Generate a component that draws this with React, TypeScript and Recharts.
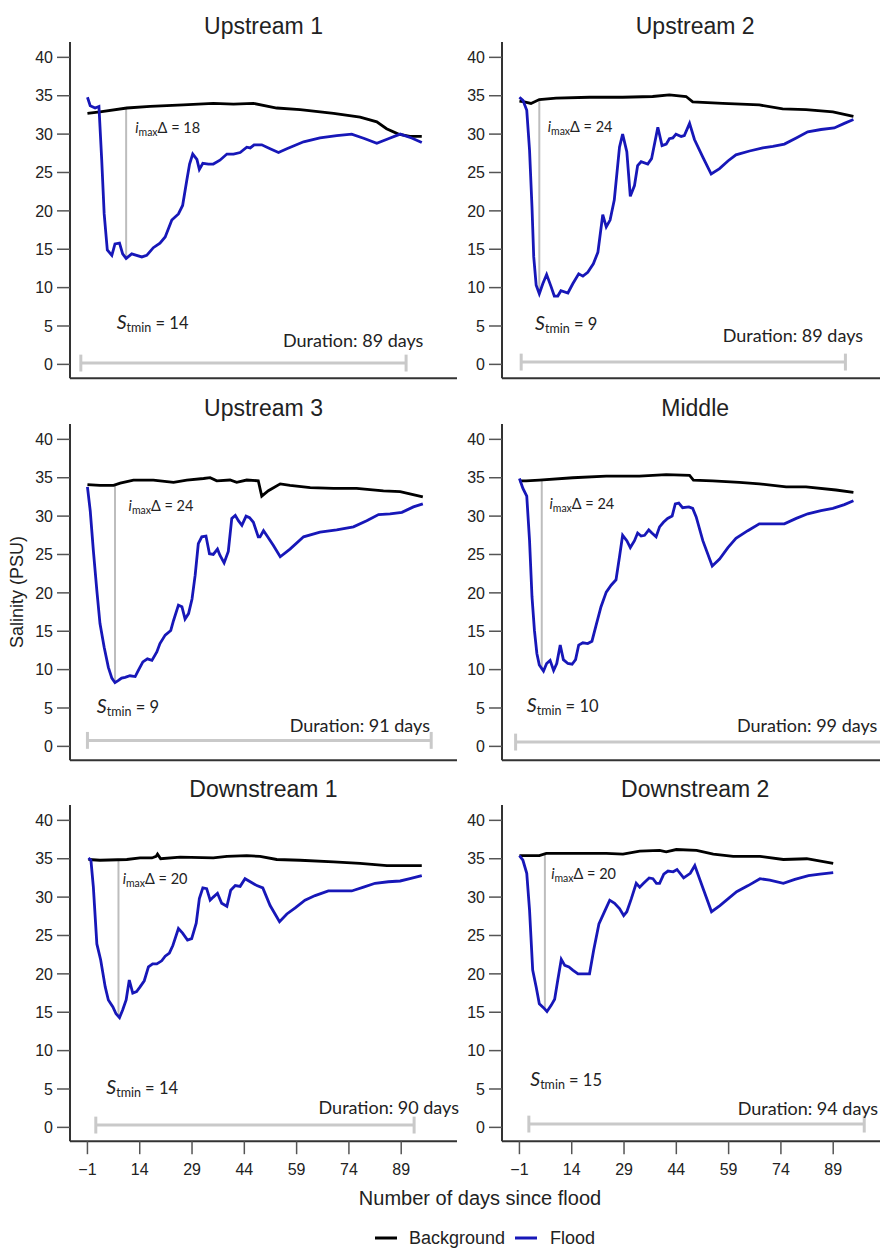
import { LineChart, Line, XAxis, YAxis, ReferenceLine, ReferenceDot } from "recharts";

const DAY_TICKS = [-1, 14, 29, 44, 59, 74, 89];
const SALINITY_TICKS = [0, 5, 10, 15, 20, 25, 30, 35, 40];

const PANEL_TITLES = ["Upstream 1", "Upstream 2", "Upstream 3", "Middle", "Downstream 1", "Downstream 2"];
const IMAX_DELTA = [18, 24, 24, 24, 20, 20];
const S_TMIN = [14, 9, 9, 10, 14, 15];
const DURATION_DAYS = [89, 89, 91, 99, 90, 94];

// day of the largest drop, background and flood salinity on that day
const MIN_DAY = [10.1, 4.7, 6.9, 5.4, 7.9, 6.3];
const MIN_BACKGROUND = [33.4, 34.5, 34.0, 34.7, 34.9, 35.7];
const MIN_FLOOD = [13.8, 9.2, 8.3, 10.0, 14.4, 15.3];

// duration bar, start / end day
const DURATION_START = [-2.9, -0.5, -1, -2.1, 1.4, 1.7];
const DURATION_END = [90.4, 92.5, 97.6, 104, 92.7, 97.9];

// [day, salinity]
const up1Flood = [
  [-1, 34.8], [-0.2, 33.7], [1.2, 33.4], [2.3, 33.6], [3.1, 26.6], [3.8, 19.6], [4.7, 14.9], [6, 14.2],
  [6.9, 15.7], [8.2, 15.8], [9.1, 14.4], [10.1, 13.8], [11.7, 14.4], [13.1, 14.2], [14.6, 14.0], [16, 14.2],
  [17.9, 15.2], [19.8, 15.8], [21.3, 16.6], [23.2, 18.8], [25.1, 19.6], [26.3, 20.7], [27.5, 24.0], [28.3, 26.1],
  [29.2, 27.4], [30.4, 26.7], [31.1, 25.4], [32.1, 26.2], [33.7, 26.1], [35.1, 26.1], [37, 26.6], [39, 27.4],
  [40.9, 27.4], [42.8, 27.6], [44.7, 28.3], [45.7, 28.2], [46.8, 28.6], [49, 28.6], [51.4, 28.1], [53.8, 27.6],
  [56.2, 28.1], [61, 29.0], [65.7, 29.5], [70.5, 29.8], [74.8, 30.0], [78.6, 29.4], [82, 28.8], [85.3, 29.4],
  [88.7, 30.0], [92, 29.5], [94.9, 28.9],
];
const up1Background = [
  [-1, 32.7], [2.6, 32.9], [10.3, 33.4], [17, 33.6], [26.5, 33.8], [35.1, 34.0], [40.9, 33.9], [46.6, 34.0],
  [53.3, 33.4], [60, 33.2], [69.6, 32.7], [77.2, 32.2], [82, 31.6], [84.8, 30.7], [88.2, 30.0], [91.5, 29.7],
  [94.9, 29.7],
];

const up2Flood = [
  [-1, 34.8], [0, 34.4], [1.1, 33.1], [1.9, 27.9], [2.6, 20.5], [3.1, 14.0], [3.8, 10.3], [4.7, 9.2],
  [5.7, 10.5], [6.8, 11.7], [8.1, 10.1], [9, 8.9], [10, 8.9], [10.9, 9.6], [12.9, 9.3], [14.3, 10.5],
  [16, 11.8], [17.2, 11.5], [18.6, 12.0], [20.2, 13.1], [21.5, 14.6], [22.9, 19.5], [23.9, 17.9], [25, 18.8],
  [26.2, 21.4], [27.7, 28.3], [28.6, 30.0], [29.8, 27.7], [30.8, 21.9], [32, 23.3], [32.9, 25.9], [33.9, 26.4],
  [35.8, 26.1], [36.9, 26.8], [38.7, 30.9], [39.9, 28.5], [41.1, 28.7], [42, 29.4], [43, 29.5], [43.9, 30.0],
  [45.4, 29.7], [46.3, 29.8], [47.8, 31.4], [49.2, 29.3], [51.6, 27.0], [54, 24.8], [56.4, 25.5], [58.8, 26.5],
  [61.1, 27.3], [65, 27.8], [68.8, 28.2], [71.7, 28.4], [75, 28.7], [78.4, 29.5], [81.7, 30.3], [85.5, 30.6],
  [89.3, 30.8], [92.2, 31.4], [94.8, 31.9],
];
const up2Background = [
  [-1, 34.3], [0.4, 34.2], [2.3, 34.0], [4.7, 34.5], [9.5, 34.7], [19.1, 34.8], [28.6, 34.8], [37.2, 34.9],
  [42, 35.1], [46.8, 34.9], [48.7, 34.2], [57.3, 34.0], [67.8, 33.8], [74.5, 33.3], [81.2, 33.2], [88.9, 32.9],
  [94.8, 32.3],
];

const up3Flood = [
  [-1, 33.8], [-0.2, 30.7], [0.7, 25.5], [1.7, 20.3], [2.6, 16.0], [3.8, 12.9], [5, 10.3], [6, 8.9],
  [6.9, 8.3], [7.9, 8.6], [8.8, 8.9], [9.8, 9.0], [11.2, 9.2], [12.7, 9.1], [13.6, 9.9], [14.9, 11.0],
  [16.2, 11.4], [17.5, 11.2], [18.9, 12.3], [19.8, 13.4], [21.3, 14.5], [22.9, 15.1], [23.7, 16.4], [25.1, 18.4],
  [26.1, 18.2], [27, 16.6], [28, 17.3], [29, 19.2], [29.9, 22.3], [30.8, 26.4], [31.8, 27.3], [33, 27.4],
  [34, 25.1], [35.1, 25.0], [36.3, 25.7], [37, 24.9], [38.2, 23.9], [39.4, 25.4], [40.4, 29.7], [41.4, 30.1],
  [42.3, 29.4], [43.3, 28.8], [44.5, 30.0], [45.5, 29.8], [46.6, 29.2], [48, 27.3], [48.5, 27.3], [49.5, 28.1],
  [50.4, 27.5], [52.3, 26.2], [54.3, 24.7], [57.1, 25.7], [61, 27.3], [65.7, 27.9], [70.5, 28.2], [75.3, 28.6],
  [79.1, 29.4], [82.5, 30.2], [85.8, 30.3], [89.2, 30.5], [92.5, 31.2], [95.2, 31.6],
];
const up3Background = [
  [-1, 34.1], [2.6, 34.0], [6.5, 34.0], [8.4, 34.3], [12.2, 34.7], [17.9, 34.7], [23.7, 34.4], [27.5, 34.7],
  [32.3, 34.9], [34.2, 35.0], [36.1, 34.6], [39.9, 34.7], [41.8, 34.4], [44.7, 34.7], [48, 34.6], [49, 32.6],
  [50.9, 33.3], [54.3, 34.2], [57.1, 34.0], [62.9, 33.7], [69.6, 33.6], [76.2, 33.6], [83.9, 33.3], [88.7, 33.2],
  [95.2, 32.5],
];

const midFlood = [
  [-1, 34.9], [0, 33.6], [1.1, 32.6], [1.9, 26.8], [2.6, 19.5], [3.3, 15.1], [4, 12.1], [4.7, 10.6],
  [5.9, 9.8], [6.8, 10.8], [7.8, 11.2], [8.8, 9.9], [9.7, 10.8], [10.7, 13.2], [11.6, 11.3], [12.9, 10.8],
  [14.1, 10.7], [15.1, 11.3], [16, 13.2], [17.2, 13.5], [18.6, 13.4], [19.8, 13.7], [21, 15.8], [22.4, 18.2],
  [23.9, 20.1], [25.3, 21.0], [26.7, 21.7], [27.7, 24.7], [28.6, 27.5], [29.8, 26.8], [30.8, 25.9], [32, 26.8],
  [32.9, 27.8], [33.9, 27.4], [34.9, 27.5], [36.1, 28.2], [37, 27.8], [38.2, 27.3], [39.2, 28.6], [40.3, 29.2],
  [41.5, 29.7], [42.8, 30.0], [43.7, 31.6], [44.7, 31.7], [45.8, 31.1], [47.6, 31.2], [48.7, 31.0], [49.7, 29.9],
  [51.6, 26.8], [54.3, 23.5], [56.4, 24.4], [58.8, 25.9], [61.1, 27.1], [64.5, 28.1], [67.8, 29.0], [71.7, 29.0],
  [75, 29.0], [78.4, 29.7], [81.7, 30.3], [85.5, 30.7], [88.9, 31.0], [92.2, 31.5], [94.8, 32.0],
];
const midBackground = [
  [-1, 34.6], [0.9, 34.6], [4.7, 34.7], [14.3, 35.0], [23.9, 35.2], [33.4, 35.2], [41.1, 35.4], [47.8, 35.3],
  [48.9, 34.7], [54.4, 34.6], [62.1, 34.4], [67.8, 34.2], [75.5, 33.8], [81.2, 33.8], [89.8, 33.4], [94.8, 33.1],
];

const down1Flood = [
  [-0.7, 35.1], [0, 34.8], [0.7, 31.3], [1.7, 23.9], [2.8, 21.8], [4.1, 18.3], [5, 16.6], [6.3, 15.7],
  [7.2, 14.8], [8.2, 14.3], [9.1, 15.3], [10.1, 16.6], [11, 19.2], [12, 17.5], [13.1, 17.7], [14.1, 18.3],
  [15.3, 19.1], [16.5, 20.9], [17.7, 21.3], [18.9, 21.3], [20.3, 21.7], [21.3, 22.3], [22.5, 22.7], [23.5, 23.7],
  [25.1, 25.9], [26.3, 25.3], [27.7, 24.4], [28.9, 24.6], [30.2, 26.6], [31.1, 29.8], [32.1, 31.2], [33.2, 31.1],
  [34.2, 29.6], [35.1, 30.0], [36.3, 30.5], [37.5, 29.2], [39, 28.8], [40.1, 30.9], [41.4, 31.5], [42.8, 31.4],
  [44.2, 32.4], [45.7, 32.0], [47.6, 31.5], [49.3, 31.2], [51.4, 28.9], [54.1, 26.8], [56.2, 27.8], [58.6, 28.6],
  [61.4, 29.6], [64.3, 30.2], [68.1, 30.8], [71.5, 30.8], [74.8, 30.8], [78.2, 31.3], [81.5, 31.8], [85.3, 32.0],
  [88.7, 32.1], [91.5, 32.4], [94.9, 32.8],
];
const down1Background = [
  [-0.7, 34.9], [2.6, 34.8], [10.3, 34.9], [14.1, 35.1], [17.5, 35.1], [18.7, 35.3], [19.1, 35.6], [20, 35.0],
  [25.6, 35.2], [35.1, 35.1], [39, 35.3], [44.7, 35.4], [48.5, 35.3], [53.3, 34.9], [60, 34.8], [69.6, 34.6],
  [77.2, 34.4], [84.9, 34.1], [94.9, 34.1],
];

const down2Flood = [
  [-1, 35.4], [0, 34.8], [1.1, 33.1], [1.9, 28.3], [2.8, 20.5], [3.8, 18.3], [4.7, 16.1], [5.9, 15.6],
  [6.9, 15.1], [8.1, 15.9], [9.1, 16.7], [10, 19.2], [11, 21.9], [12, 21.1], [13.2, 20.9], [14.3, 20.5],
  [15.8, 20.0], [17.2, 20.0], [19.1, 20.0], [20.3, 23.1], [21.8, 26.5], [23.4, 28.1], [24.9, 29.6], [26.3, 29.2],
  [27.7, 28.5], [28.9, 27.6], [29.8, 28.1], [31.1, 29.8], [32.5, 31.8], [33.5, 31.3], [34.6, 31.8], [36.2, 32.5],
  [37.3, 32.4], [38.3, 31.8], [39.2, 31.8], [40.4, 33.0], [41.6, 33.4], [43.1, 33.3], [44.2, 33.6], [46.1, 32.5],
  [48, 33.1], [49.3, 34.1], [51.7, 31.1], [54.1, 28.1], [56.5, 28.9], [58.9, 29.8], [61.3, 30.7], [64.6, 31.5],
  [68, 32.4], [70.8, 32.2], [74.7, 31.8], [78, 32.3], [81.9, 32.8], [85.2, 33.0], [89, 33.2],
];
const down2Background = [
  [-1, 35.4], [4.7, 35.4], [6.7, 35.7], [14.3, 35.7], [23.9, 35.7], [28.7, 35.6], [33.5, 36.0], [39.2, 36.1],
  [41.1, 35.9], [44, 36.2], [49.8, 36.1], [54.6, 35.6], [60.3, 35.3], [68, 35.3], [74.7, 34.9], [81.4, 35.0],
  [89, 34.4],
];

const FLOOD = [up1Flood, up2Flood, up3Flood, midFlood, down1Flood, down2Flood];
const BACKGROUND = [up1Background, up2Background, up3Background, midBackground, down1Background, down2Background];

// where the notes sit, in data units [day, salinity]
const NOTE_POS = [
  { imax: [12.7, 30.8], stmin: [7.4, 5.4], dur: [55.1, 3.1], bar: 0.17 },
  { imax: [7.1, 31.0], stmin: [3.5, 5.3], dur: [57.3, 3.8], bar: 0.3 },
  { imax: [10.8, 31.3], stmin: [1.7, 5.1], dur: [57.0, 2.7], bar: 0.78 },
  { imax: [7.6, 31.6], stmin: [1.1, 5.2], dur: [61.4, 2.7], bar: 0.56 },
  { imax: [9.1, 32.4], stmin: [4.4, 5.1], dur: [65.3, 2.6], bar: 0.3 },
  { imax: [8.1, 33.0], stmin: [2.1, 6.2], dur: [61.6, 2.5], bar: 0.43 },
];

const FONT = "'Liberation Sans', Arial, sans-serif";
const NOTE_FONT = "Lato, 'Open Sans', sans-serif";
const BLUE = "#1717b8";
const AXIS = "#333";
const GREY_LINE = "#bdbdbd";
const BAR = "#c9c9c9";

const PLOT_W = 387;
const PLOT_H = 336.2;
const COL_X = [70, 501.7];
const ROW_Y = [41.8, 423.6, 804.7];
const Y_AXIS_W = 60;
const M_LEFT = 10;
const M_TOP = 10;

const toPoints = (rows: number[][]) => rows.map(([day, s]) => ({ day, s }));
const minusSign = (v: number) => (v < 0 ? `\u2212${Math.abs(v)}` : `${v}`);

const imaxNote = (value: number) => (p: any) => (
  <text x={p.cx} y={p.cy} dy="0.36em" fontFamily={NOTE_FONT} fontSize={14.5} fill="#222">
    <tspan fontStyle="italic">i</tspan>
    <tspan fontSize={10.5} dy={3}>max</tspan>
    <tspan dy={-3}>{`Δ = ${value}`}</tspan>
  </text>
);

const stminNote = (value: number) => (p: any) => (
  <text x={p.cx} y={p.cy} dy="0.36em" fontFamily={NOTE_FONT} fontSize={16.5} fill="#222">
    <tspan fontStyle="italic" fontSize={19.5}>S</tspan>
    <tspan fontSize={12.5} dy={3}>tmin</tspan>
    <tspan dy={-3}>{` = ${value}`}</tspan>
  </text>
);

const durationNote = (value: number) => (p: any) => (
  <text x={p.cx} y={p.cy} dy="0.36em" fontFamily={NOTE_FONT} fontSize={18} fill="#222">
    {`Duration: ${value} days`}
  </text>
);

function Panel({ i }: { i: number }) {
  const col = i % 2;
  const row = Math.floor(i / 2);
  const isBottom = row === 2;
  const xh = isBottom ? 44 : 3;
  const w = M_LEFT + Y_AXIS_W + PLOT_W + 4;
  const h = M_TOP + PLOT_H + xh + 2;
  const pos = NOTE_POS[i];
  const cap = 1.1;

  return (
    <div style={{ position: "absolute", left: COL_X[col] - M_LEFT - Y_AXIS_W, top: ROW_Y[row] - M_TOP }}>
      <LineChart width={w} height={h} margin={{ top: M_TOP, right: 4, bottom: 2, left: M_LEFT }}>
        <XAxis
          type="number"
          dataKey="day"
          domain={[-6, 105]}
          ticks={DAY_TICKS}
          interval={0}
          height={xh}
          allowDataOverflow
          axisLine={{ stroke: AXIS, strokeWidth: 2 }}
          tick={isBottom ? { fill: "#222", fontSize: 16, fontFamily: FONT } : false}
          tickLine={isBottom ? { stroke: "#555", strokeWidth: 1.5 } : false}
          tickFormatter={minusSign}
          tickSize={13}
          tickMargin={9}
        />
        <YAxis
          type="number"
          domain={[-1.8, 42]}
          ticks={SALINITY_TICKS}
          interval={0}
          width={Y_AXIS_W}
          allowDataOverflow
          axisLine={{ stroke: AXIS, strokeWidth: 2 }}
          tick={{ fill: "#222", fontSize: 16, fontFamily: FONT }}
          tickLine={{ stroke: "#555", strokeWidth: 1.5 }}
          tickSize={13}
          tickMargin={4}
        />
        <ReferenceLine
          segment={[{ x: MIN_DAY[i], y: MIN_BACKGROUND[i] }, { x: MIN_DAY[i], y: MIN_FLOOD[i] }]}
          stroke={GREY_LINE}
          strokeWidth={2}
          ifOverflow="visible"
        />
        <ReferenceLine
          segment={[{ x: DURATION_START[i], y: pos.bar }, { x: DURATION_END[i], y: pos.bar }]}
          stroke={BAR}
          strokeWidth={3}
          ifOverflow="visible"
        />
        <ReferenceLine
          segment={[{ x: DURATION_START[i], y: pos.bar - cap }, { x: DURATION_START[i], y: pos.bar + cap }]}
          stroke={BAR}
          strokeWidth={3}
          ifOverflow="visible"
        />
        <ReferenceLine
          segment={[{ x: DURATION_END[i], y: pos.bar - cap }, { x: DURATION_END[i], y: pos.bar + cap }]}
          stroke={BAR}
          strokeWidth={3}
          ifOverflow="visible"
        />
        <Line
          data={toPoints(BACKGROUND[i])}
          dataKey="s"
          type="linear"
          stroke="#000"
          strokeWidth={2.8}
          dot={false}
          activeDot={false}
          isAnimationActive={false}
        />
        <Line
          data={toPoints(FLOOD[i])}
          dataKey="s"
          type="linear"
          stroke={BLUE}
          strokeWidth={2.8}
          dot={false}
          activeDot={false}
          isAnimationActive={false}
        />
        <ReferenceDot x={pos.imax[0]} y={pos.imax[1]} r={0} ifOverflow="visible" shape={imaxNote(IMAX_DELTA[i])} />
        <ReferenceDot x={pos.stmin[0]} y={pos.stmin[1]} r={0} ifOverflow="visible" shape={stminNote(S_TMIN[i])} />
        <ReferenceDot x={pos.dur[0]} y={pos.dur[1]} r={0} ifOverflow="visible" shape={durationNote(DURATION_DAYS[i])} />
      </LineChart>
    </div>
  );
}

export default function App() {
  const titleX = COL_X.map((x) => x + PLOT_W / 2);
  const titleY = ROW_Y.map((y) => y - 7.5);
  return (
    <div
      style={{
        position: "absolute",
        left: 0,
        top: 0,
        width: 880,
        height: 1250,
        overflow: "hidden",
        background: "#fff",
      }}
    >
      <svg width={880} height={1250} style={{ position: "absolute", left: 0, top: 0 }}>
        {PANEL_TITLES.map((t, i) => (
          <text
            key={t}
            x={titleX[i % 2]}
            y={titleY[Math.floor(i / 2)]}
            textAnchor="middle"
            fontFamily={FONT}
            fontSize={23}
            fill="#222"
          >
            {t}
          </text>
        ))}
        <text
          x={23}
          y={592}
          transform="rotate(-90 23 592)"
          textAnchor="middle"
          fontFamily={FONT}
          fontSize={18}
          fill="#222"
        >
          Salinity (PSU)
        </text>
        <text x={480} y={1205} textAnchor="middle" fontFamily={FONT} fontSize={20} fill="#222">
          Number of days since flood
        </text>
        <line x1={375} x2={397} y1={1238} y2={1238} stroke="#000" strokeWidth={3} />
        <text x={409} y={1243.5} fontFamily={FONT} fontSize={18} fill="#222">
          Background
        </text>
        <line x1={515} x2={537} y1={1238} y2={1238} stroke={BLUE} strokeWidth={3} />
        <text x={550} y={1243.5} fontFamily={FONT} fontSize={18} fill="#222">
          Flood
        </text>
      </svg>
      {PANEL_TITLES.map((t, i) => (
        <Panel key={t} i={i} />
      ))}
    </div>
  );
}
